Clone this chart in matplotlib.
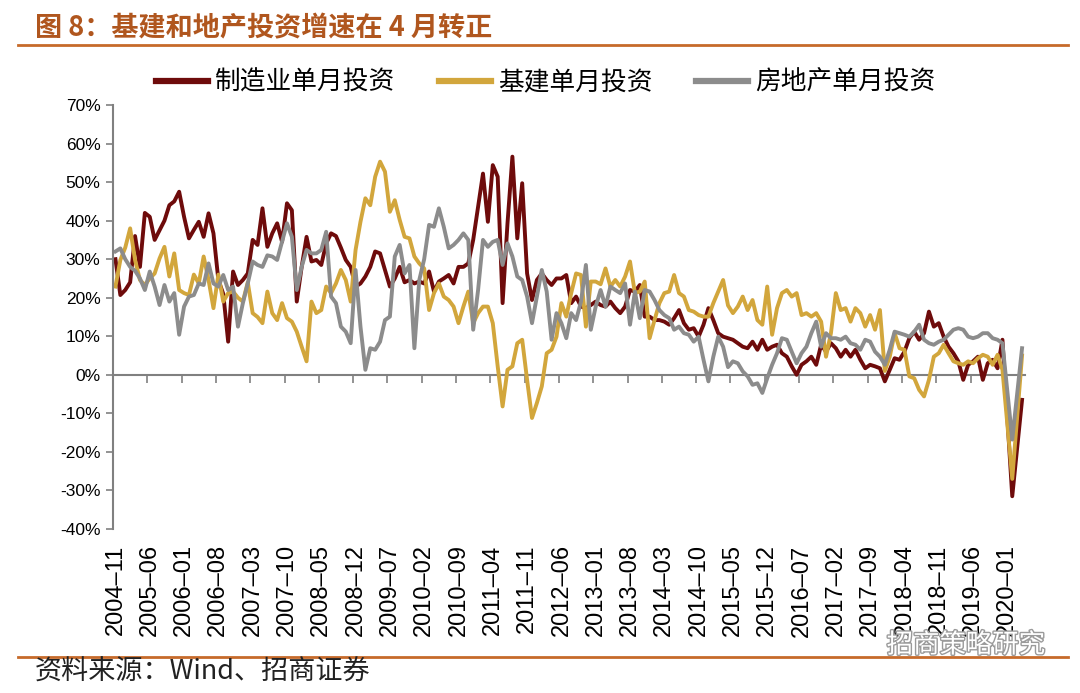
import matplotlib
matplotlib.use("Agg")
import matplotlib.pyplot as plt
import matplotlib.patheffects as pe
import numpy as np
import pandas as pd

# monthly single-month investment growth, %, 2004-11 .. 2020-04 (2020-01 not published)
start_month = "2004-11"
mfg = [30, 20.7, 22, 24, 36, 28, 42, 41, 35, 37.5,
       40, 44, 45, 47.5, 41, 35.4, 37.6, 39.7, 35.8, 41.9,
       36.7, 24.6, 21, 8.6, 26.8, 23.3, 24.6, 26.3, 35, 33.7,
       43.2, 33.2, 36.7, 39.3, 34.5, 44.5, 42.7, 19, 28, 35.8,
       29.4, 29.8, 28.5, 34.1, 36.7, 36, 33, 29.8, 28, 22.9,
       23.7, 25.5, 28, 32, 31.5, 27.2, 22.9, 25, 28, 24,
       24.6, 23.7, 24.2, 23.7, 26.8, 21.6, 24.2, 25, 25.9, 23.7,
       28, 28, 28.9, 35, 43.6, 52.2, 39.7, 54.4, 51.4, 18.6,
       39.3, 56.6, 35.4, 49.7, 26.3, 19.4, 24.6, 26.3, 24.6, 23.3,
       25, 25, 25.9, 18.6, 20.3, 17.7, 17.3, 18.1, 19, 18.1,
       17.7, 19, 17.3, 16, 17.7, 22, 21.6, 23.3, 15.1, 15.1,
       14.2, 14.2, 13.8, 13, 14.7, 16.8, 13.4, 11.7, 12.1, 9.9,
       13, 17.3, 14.2, 10.8, 9.9, 9.5, 9.1, 8.2, 7.3, 6.9,
       8.6, 6.5, 9.1, 6.5, 7.3, 7.8, 5.6, 4.7, 2.2, 0,
       2.6, 3.5, 4.7, 2.6, 7.8, 6, 8.2, 6.9, 4.7, 6.5,
       4.7, 6.5, 3.9, 1.7, 2.6, 2.2, 1.7, -1.7, 1.3, 4.3,
       3.9, 6, 9.5, 11.2, 9.1, 10.8, 16.4, 12.5, 13.4, 9.9,
       7.3, 5.6, 3.5, -1.3, 2.6, 3.5, 4.7, -1.3, 3, 3.9,
       1.7, 9.1, np.nan, -31.5, -19, -6.5]
infra = [22.9, 29.8, 33, 38, 29.8, 24.6, 23.3, 25, 26.3, 30.2,
         33.2, 25.5, 31.5, 22, 21.2, 20.7, 26, 23.7, 30.7, 24.6,
         17.3, 26, 19, 21.2, 21.6, 20, 19, 24, 16, 15,
         13.4, 21.6, 16, 14.2, 18.6, 14.7, 13.8, 11.2, 7.3, 3.5,
         19, 16, 16.8, 22.9, 21.2, 23.7, 27.2, 24.6, 19, 32.4,
         39.7, 45.8, 44, 51.4, 55.3, 52.7, 42.3, 45.3, 40.2, 35.8,
         35.4, 30.7, 28.9, 27.6, 16.8, 21.2, 23.7, 20.3, 19.4, 17.7,
         13.4, 17.7, 21.6, 13.4, 16, 17.7, 17.7, 13.4, 2.2, -8.2,
         1.3, 2.2, 8.2, 9.1, -1.3, -11.2, -7.3, -3, 5.6, 6.5,
         9.9, 18.6, 15.1, 21.2, 26.3, 25.9, 12.5, 24.2, 24.2, 23.5,
         27.6, 22.9, 24.6, 22.9, 25.5, 29.4, 21.2, 21.6, 24.2, 9.5,
         14.2, 18.6, 21.2, 21.6, 25.9, 21.2, 20.3, 16.8, 16.4, 15.5,
         15.1, 15.1, 18.6, 21.6, 24.6, 18, 16, 17.7, 20.3, 16.8,
         19.4, 14.2, 13, 22.9, 10.4, 17.3, 21.2, 22, 20.3, 21.2,
         15.5, 16, 15.1, 16, 13.8, 4.7, 10.8, 21.2, 16.8, 17.3,
         13.8, 17.3, 16, 12.5, 15.5, 11.7, 16.8, 1, 4.7, 10.8,
         6.9, 6.5, -0.4, -0.9, -3.9, -5.6, -1.3, 4.7, 5.6, 7.8,
         5.6, 3.5, 3, 2.6, 3.5, 3, 4.3, 5.2, 4.7, 2.6,
         5.2, 1.3, np.nan, -27, -11, 5]
realty = [32, 32.8, 30, 28, 27, 25, 22, 26.8, 22.9, 18.1,
          23.3, 19, 21.2, 10.4, 17.7, 20.3, 20.7, 23.7, 23.3, 28.9,
          23.7, 22.9, 25.9, 22, 22.9, 12.5, 18.6, 23.7, 29.4, 28.5,
          28, 31, 30.7, 29.8, 34.5, 39.3, 35.8, 22, 28, 32.4,
          31.5, 31.5, 32.4, 37.1, 20.3, 18.6, 12.5, 11.2, 8.2, 27.2,
          12.5, 1.3, 6.9, 6.5, 8.6, 14.2, 15.1, 30.7, 33.7, 26.3,
          28.5, 6.9, 24.6, 30, 38.9, 38.4, 43.2, 38.4, 32.8, 33.7,
          35, 36.7, 35, 11.7, 22, 35, 33.2, 34.5, 35, 28.5,
          34.1, 30.7, 25.5, 24.6, 20.3, 13.4, 20.3, 27.2, 21.6, 9.1,
          16, 13.4, 9.5, 16, 14.2, 19, 28.5, 11.7, 17.7, 22,
          17.7, 22.9, 22, 21.2, 23.7, 13, 21.6, 14.7, 22, 21.6,
          19.4, 16.8, 15.5, 14.7, 11.7, 12.5, 10.8, 10.4, 8.6, 9.9,
          3.9, -1.7, 4.7, 9.9, 7.3, 2, 3.5, 3, 0.9, -0.4,
          -2.6, -2.2, -4.7, -0.9, 2.6, 5.6, 9.5, 9.1, 6, 3,
          5.6, 7.3, 10.8, 13.8, 7.3, 10.8, 9.5, 9.5, 9.1, 9.9,
          8.2, 7.8, 6.5, 9.1, 8.6, 6, 4.7, 2.6, 6.5, 11.2,
          10.8, 10.4, 9.9, 11.2, 13, 9.1, 8.2, 7.8, 8.6, 9.1,
          10.4, 11.7, 12.1, 11.7, 9.9, 9.5, 9.9, 10.8, 10.8, 9.5,
          9.1, 8.2, np.nan, -16.8, -5, 6.9]

series_names = ["制造业单月投资", "基建单月投资", "房地产单月投资"]
colors = ["#6E0B0B", "#D2A63C", "#8C8C8C"]

months = pd.period_range(start_month, periods=len(mfg), freq="M")
labels = [p.strftime("%Y–%m") for p in months]
x = np.arange(len(months))

TITLE_C = "#B0561E"
RULE_C = "#C66A2A"
AXIS_C = "#808080"
CJK = ["Noto Sans CJK SC", "DejaVu Sans"]
LAT = ["Liberation Sans", "DejaVu Sans"]

fig = plt.figure(figsize=(10.8, 6.93), dpi=100)
W, H = 1080, 693
ax = fig.add_axes([113 / W, 1 - 529 / H, (1024.5 - 113) / W, (529 - 105) / H])

for vals, name, c in zip([mfg, infra, realty], series_names, colors):
    v = np.array(vals, dtype=float)
    ok = ~np.isnan(v)
    ax.plot(x[ok], v[ok], color=c, lw=2.8, label=name, solid_joinstyle="round")

ax.set_xlim(-0.5, len(months) - 0.5)
ax.set_ylim(-40, 70)
ax.set_yticks(np.arange(-40, 71, 10))
ax.set_yticklabels([f"{v}%" for v in range(-40, 71, 10)], family=LAT, fontsize=12.5)
ax.tick_params(axis="y", direction="out", length=5, width=1.2, color=AXIS_C, pad=4)

# category labels at the bottom, every 7th month
ax.set_xticks(x[::7])
ax.set_xticklabels(labels[::7], rotation=90, family=LAT, fontsize=17)
ax.tick_params(axis="x", length=0, pad=11)

for s in ["top", "right", "bottom"]:
    ax.spines[s].set_visible(False)
ax.spines["left"].set_color(AXIS_C)
ax.spines["left"].set_linewidth(1.5)

# zero line with tick marks between categories
zero = ax.secondary_xaxis(40 / 110)
zero.set_xticks(np.arange(-0.5, len(months), 7))
zero.set_xticklabels([])
zero.tick_params(direction="out", length=6, width=1.2, color=AXIS_C)
zero.spines["bottom"].set_color(AXIS_C)
zero.spines["bottom"].set_linewidth(1.5)

leg = ax.legend(loc="center", bbox_to_anchor=(546 / W, 1 - 83 / H),
                bbox_transform=fig.transFigure, ncol=3, frameon=False,
                prop={"family": CJK, "size": 18.5}, handlelength=2.0,
                handletextpad=0.3, columnspacing=1.7)
for h in leg.get_lines():
    h.set_linewidth(4.5)

fig.text(35 / W, 1 - 28 / H, "图 8：基建和地产投资增速在 4 月转正", family=CJK,
         fontsize=19.5, fontweight="bold", color=TITLE_C, va="center", ha="left")
fig.add_artist(plt.Line2D([18 / W, 1068 / W], [1 - 45 / H, 1 - 45 / H],
                          color=RULE_C, lw=2))
fig.add_artist(plt.Line2D([18 / W, 1068 / W], [1 - 657 / H, 1 - 657 / H],
                          color=RULE_C, lw=2))
fig.text(35 / W, 1 - 672 / H, "资料来源：Wind、招商证券", family=CJK,
         fontsize=19.5, color="#222222", va="center", ha="left")
wm = fig.text(1045 / W, 1 - 645 / H, "招商策略研究", family=CJK,
              fontsize=19, color="white", va="center", ha="right")
wm.set_path_effects([pe.withStroke(linewidth=2, foreground="#9A9A9A")])

fig.savefig("out.png", dpi=100)
